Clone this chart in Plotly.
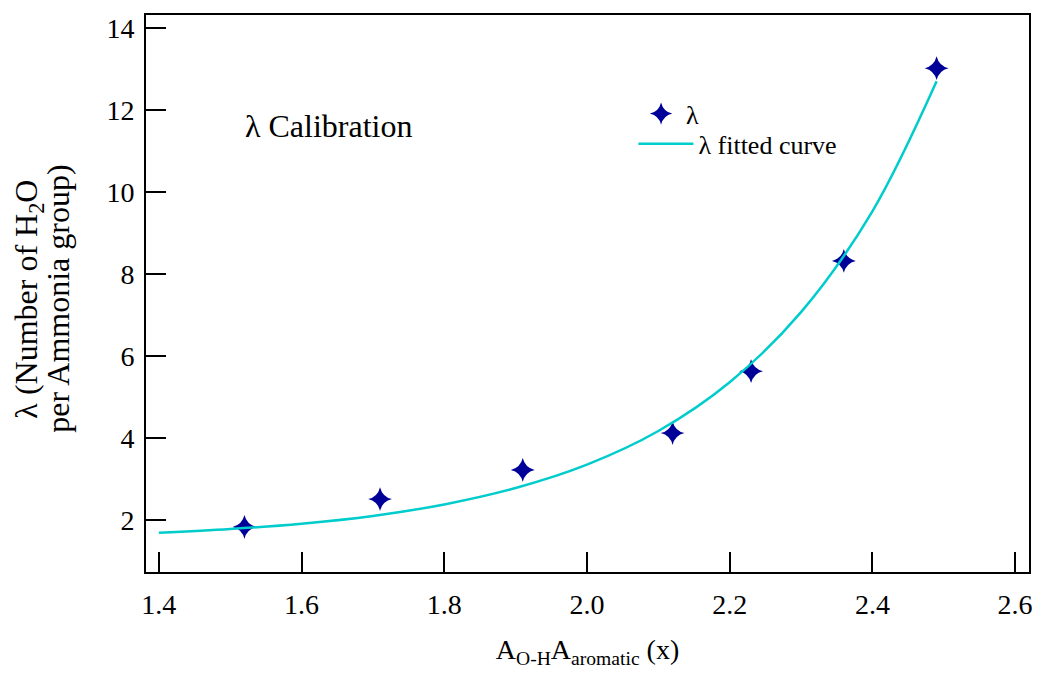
import plotly.graph_objects as go

# Measured data
x_meas = [1.52, 1.71, 1.91, 2.12, 2.23, 2.36, 2.49]
y_meas = [1.83, 2.51, 3.22, 4.12, 5.63, 8.32, 13.02]

# Fitted curve
x_fit = [1.40, 1.50, 1.60, 1.70, 1.80, 1.90, 2.00, 2.10, 2.20, 2.30, 2.40, 2.49]
y_fit = [1.69, 1.78, 1.91, 2.10, 2.38, 2.78, 3.35, 4.17, 5.36, 7.07, 9.53, 12.70]

x_ticks = [1.4, 1.6, 1.8, 2.0, 2.2, 2.4, 2.6]
y_ticks = [2, 4, 6, 8, 10, 12, 14]

FONT = "Liberation Serif"

fig = go.Figure()
fig.add_trace(go.Scatter(
    x=x_meas, y=y_meas, mode="markers", name="λ", legend="legend",
    marker=dict(symbol="star-diamond", size=17, color="#000099",
                line=dict(width=0)),
))
fig.add_trace(go.Scatter(
    x=x_fit, y=y_fit, mode="lines", name="λ fitted curve", legend="legend2",
    line=dict(color="#00CCCC", width=2.5, shape="spline"),
))

axis_common = dict(
    showline=True, linecolor="black", linewidth=2, mirror=True,
    ticks="inside", ticklen=20, tickwidth=2, tickcolor="black",
    showgrid=False, zeroline=False,
    tickfont=dict(family=FONT, size=28, color="black"),
)

fig.update_xaxes(
    range=[1.382, 2.6195], tickvals=x_ticks,
    ticktext=[f"{v:.1f}" for v in x_ticks],
    title=dict(text="A<sub>O-H</sub>A<sub>aromatic</sub> (x)",
               font=dict(family=FONT, size=28, color="black"), standoff=25),
    ticklabelstandoff=6,
    **axis_common,
)
fig.update_yaxes(
    range=[0.732, 14.317], tickvals=y_ticks,
    ticklabelstandoff=4,
    **axis_common,
)

fig.add_annotation(
    text="λ (Number of H<sub>2</sub>O",
    xref="paper", yref="paper", x=-0.133, y=0.49, xanchor="center", yanchor="middle",
    textangle=-90, showarrow=False,
    font=dict(family=FONT, size=32, color="black"),
)
fig.add_annotation(
    text="per Ammonia group)",
    xref="paper", yref="paper", x=-0.1, y=0.49, xanchor="center", yanchor="middle",
    textangle=-90, showarrow=False,
    font=dict(family=FONT, size=32, color="black"),
)
fig.add_annotation(
    text="λ Calibration", xref="paper", yref="paper",
    x=0.11, y=0.8, xanchor="left", yanchor="middle", showarrow=False,
    font=dict(family=FONT, size=32, color="black"),
)

leg_font = dict(family=FONT, size=26, color="black")
fig.update_layout(
    width=1030, height=661,
    margin=dict(l=138, r=5, t=7, b=97),
    paper_bgcolor="white", plot_bgcolor="white",
    showlegend=True,
    legend=dict(x=0.555, y=0.865, xanchor="left", yanchor="top",
                bgcolor="rgba(0,0,0,0)", font=leg_font, itemwidth=40),
    legend2=dict(x=0.552, y=0.811, xanchor="left", yanchor="top",
                 bgcolor="rgba(0,0,0,0)", font=leg_font, itemwidth=55),
)

fig.write_html("out.html")
